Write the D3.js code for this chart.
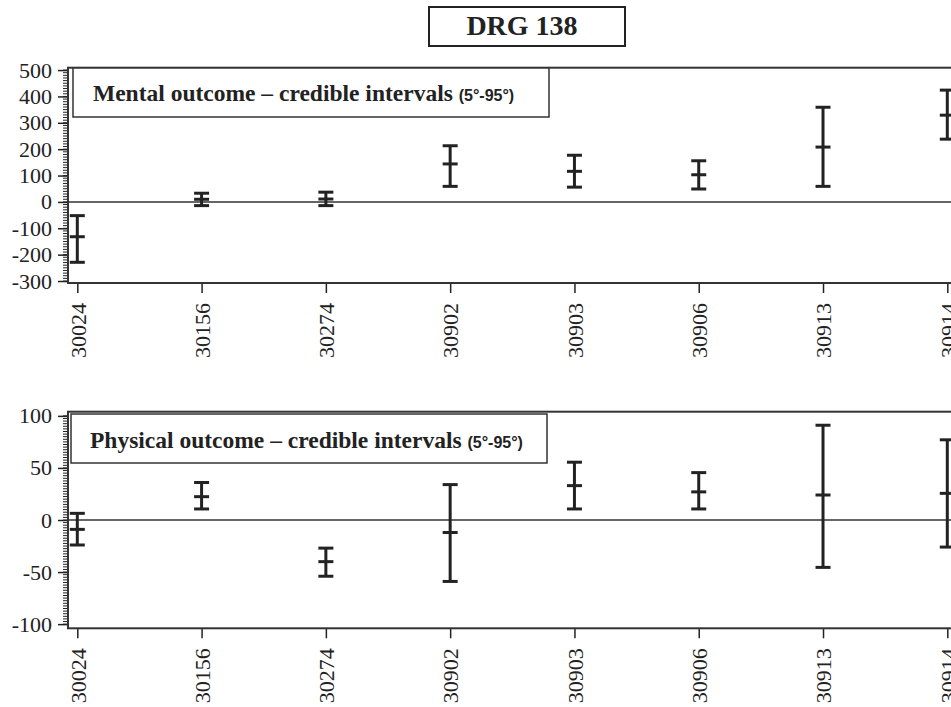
<!DOCTYPE html>
<html>
<head>
<meta charset="utf-8">
<script src="https://cdn.jsdelivr.net/npm/d3@7"></script>
<style>
  html, body { margin: 0; padding: 0; background: #fff; overflow: hidden; }
  svg { display: block; }
</style>
</head>
<body>
<svg id="chart" width="951" height="707"></svg>
<script>
const categories = ["30024","30156","30274","30902","30903","30906","30913","30914"];

const mentalLow  = [-229, -14, -14, 59, 56, 49, 59, 238];
const mentalMid  = [-132, 10, 11, 144, 116, 103, 208, 329];
const mentalHigh = [-52, 33, 37, 213, 177, 156, 359, 424];

const physLow  = [-24, 10.6, -54, -59, 10.6, 10.6, -45.5, -26];
const physMid  = [-9, 22.4, -40, -12, 33, 27, 24, 25.6];
const physHigh = [6.4, 36, -27, 34, 55.5, 45.5, 91, 77];

const mentalTicks = [-300, -200, -100, 0, 100, 200, 300, 400, 500];
const physTicks = [-100, -50, 0, 50, 100];

const titleText = "DRG 138";
const mentalLabel = "Mental outcome \u2013 credible intervals ";
const physLabel = "Physical outcome \u2013 credible intervals ";
const pctLabel = "(5\u00b0-95\u00b0)";

const svg = d3.select("#chart");
const ink = "#222";
const serif = "'Liberation Serif', 'Times New Roman', serif";
const sans = "'Liberation Sans', Arial, sans-serif";

// Title
svg.append("rect").attr("x", 429).attr("y", 7).attr("width", 196).attr("height", 39)
  .attr("fill", "#fff").attr("stroke", ink).attr("stroke-width", 2);
svg.append("text").attr("x", 522).attr("y", 35).attr("text-anchor", "middle")
  .attr("font-family", serif).attr("font-weight", "bold").attr("font-size", 28)
  .attr("fill", ink).text(titleText);

const x = d3.scalePoint().domain(categories).range([77.3, 947.3]);

function panel(cfg) {
  const g = svg.append("g");
  const y = d3.scaleLinear().domain(cfg.domain).range([cfg.bottom, cfg.top]);
  const left = 68, right = 957;

  // minor ticks
  const minors = d3.range(cfg.ticks[0], cfg.ticks[cfg.ticks.length - 1] + 1e-6, cfg.minorStep);
  g.append("g").selectAll("line").data(minors).join("line")
    .attr("x1", left - 5).attr("x2", left)
    .attr("y1", d => y(d)).attr("y2", d => y(d))
    .attr("stroke", ink).attr("stroke-width", 1);

  // y axis major
  const yAxis = d3.axisLeft(y).tickValues(cfg.ticks).tickSize(10).tickPadding(6)
    .tickFormat(d => String(d).replace("\u2212", "-"));
  const ya = g.append("g").attr("transform", `translate(${left},0)`).call(yAxis)
    .attr("font-family", serif).attr("font-size", 22);
  ya.select(".domain").remove();
  ya.selectAll(".tick line").attr("stroke", ink).attr("stroke-width", 1.5);
  ya.selectAll(".tick text").attr("fill", ink).style("font-family", serif).style("font-size", "22px");

  // x axis
  const xAxis = d3.axisBottom(x).tickSize(10).tickPadding(4);
  const xa = g.append("g").attr("transform", `translate(0,${cfg.bottom})`).call(xAxis)
    .attr("font-family", serif).attr("font-size", 22);
  xa.select(".domain").remove();
  xa.selectAll(".tick line").attr("stroke", ink).attr("stroke-width", 1.5);
  xa.selectAll(".tick text").attr("fill", ink).style("font-family", serif).style("font-size", "22px")
    .attr("transform", "rotate(-90)")
    .attr("text-anchor", "end")
    .attr("x", -20).attr("y", 0).attr("dy", "0.35em");

  // frame
  g.append("rect").attr("x", left).attr("y", cfg.top)
    .attr("width", right - left).attr("height", cfg.bottom - cfg.top)
    .attr("fill", "none").attr("stroke", "#333").attr("stroke-width", 2);

  // zero line
  g.append("line").attr("x1", left).attr("x2", right)
    .attr("y1", y(0)).attr("y2", y(0)).attr("stroke", "#333").attr("stroke-width", 1.5);

  // legend box
  g.append("rect").attr("x", cfg.box[0]).attr("y", cfg.box[1])
    .attr("width", cfg.box[2]).attr("height", cfg.box[3])
    .attr("fill", "#fff").attr("stroke", "#333").attr("stroke-width", 1.5);
  const t = g.append("text").attr("x", cfg.textX).attr("y", cfg.textY)
    .attr("fill", ink);
  t.append("tspan").style("font-family", serif).attr("font-weight", "bold")
    .style("font-size", "23.5px").text(cfg.label);
  t.append("tspan").style("font-family", sans).attr("font-weight", "bold")
    .style("font-size", "16px").text(pctLabel);

  // error bars
  const data = categories.map((c, i) => ({c, lo: cfg.lo[i], mid: cfg.mid[i], hi: cfg.hi[i]}));
  const hw = 7.5;
  const eb = g.append("g").attr("stroke", ink).attr("stroke-width", 3).attr("fill", "none");
  eb.selectAll(".v").data(data).join("line")
    .attr("x1", d => x(d.c)).attr("x2", d => x(d.c))
    .attr("y1", d => y(d.lo)).attr("y2", d => y(d.hi));
  ["lo", "mid", "hi"].forEach(k => {
    eb.selectAll(".h" + k).data(data).join("line")
      .attr("x1", d => x(d.c) - hw).attr("x2", d => x(d.c) + hw)
      .attr("y1", d => y(d[k])).attr("y2", d => y(d[k]));
  });
}

panel({
  domain: [-307.5, 509], top: 67.7, bottom: 283,
  ticks: mentalTicks, minorStep: 10,
  lo: mentalLow, mid: mentalMid, hi: mentalHigh,
  box: [73, 68, 476, 49], textX: 93, textY: 101, label: mentalLabel
});

panel({
  domain: [-104, 104], top: 411.7, bottom: 628.3,
  ticks: physTicks, minorStep: 2.5,
  lo: physLow, mid: physMid, hi: physHigh,
  box: [71, 414, 476, 49], textX: 90, textY: 448, label: physLabel
});
</script>
</body>
</html>
